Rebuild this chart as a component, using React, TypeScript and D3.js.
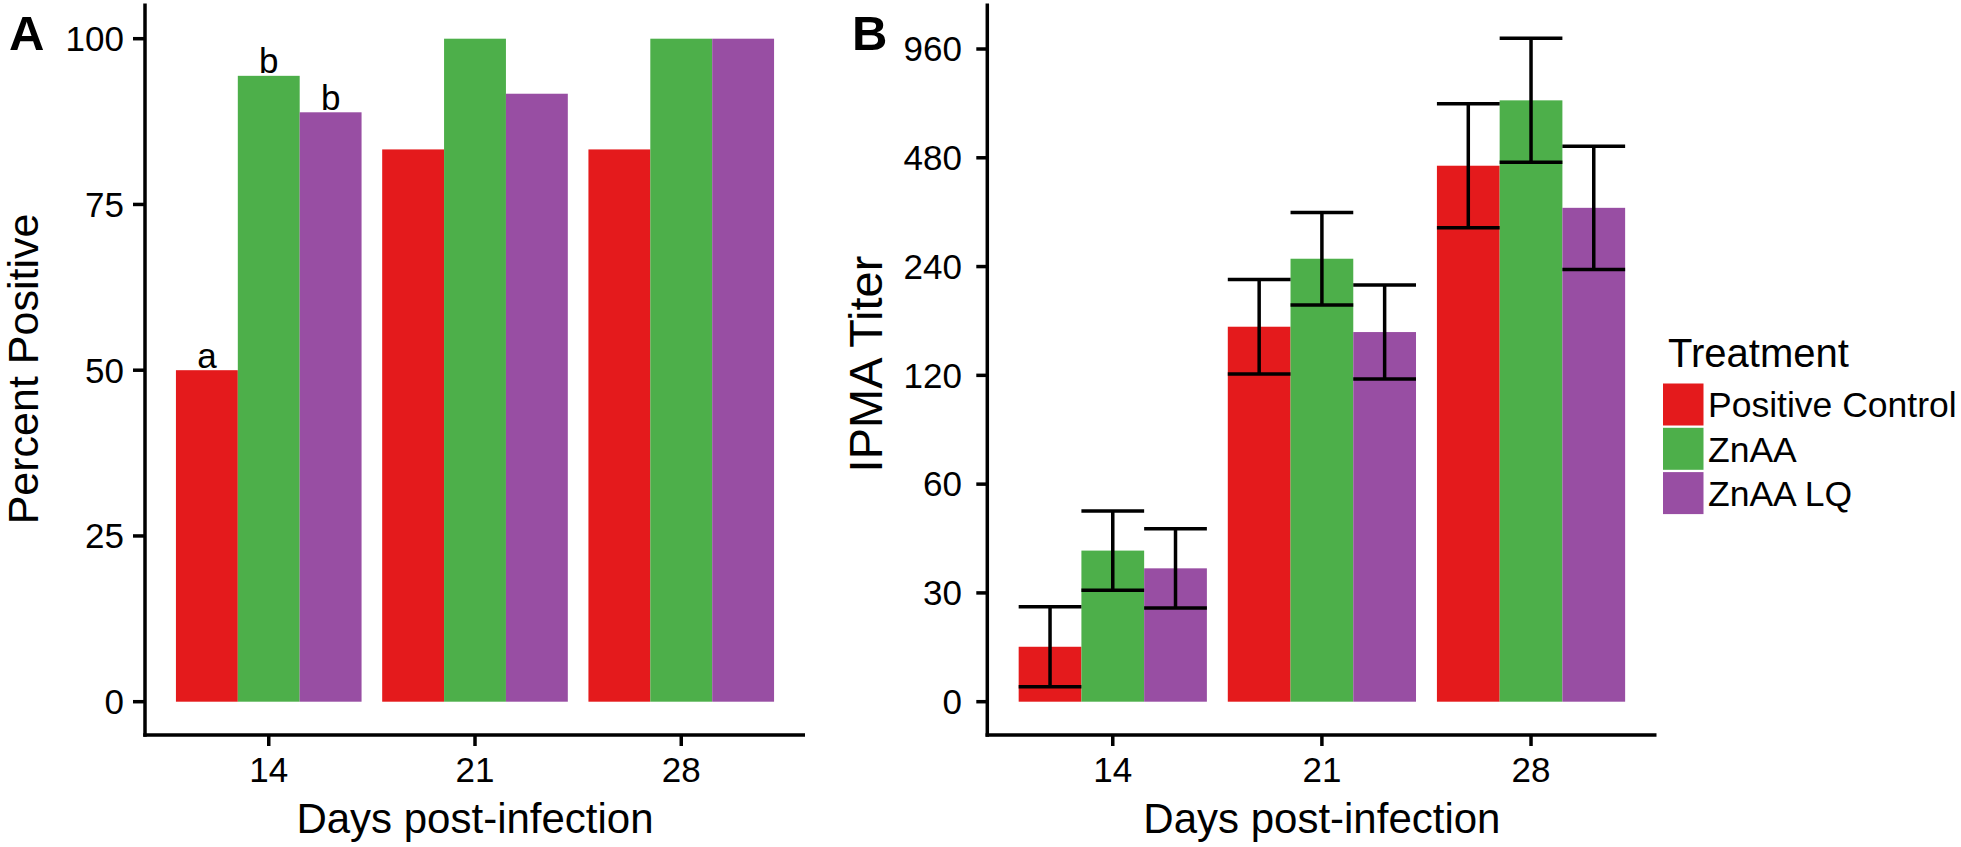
import React from 'react';
import * as d3 from 'd3';

// ---------- data ----------
const days = ['14', '21', '28'];
const treatments = ['Positive Control', 'ZnAA', 'ZnAA LQ'];
const treatmentColors = ['#E41A1C', '#4DAF4A', '#984EA3'];

// Panel A: percent positive
const pctPositiveControl = [50, 83.3, 83.3];
const pctZnAA = [94.4, 100, 100];
const pctZnAALQ = [88.9, 91.7, 100];
const pctLettersDay14 = ['a', 'b', 'b'];
const pctTicks = [0, 25, 50, 75, 100];

// Panel B: IPMA titer (plotted on two-fold dilution steps)
const titerTickLabels = ['0', '30', '60', '120', '240', '480', '960'];
const titerPositiveControl = [0.505, 3.447, 4.927];
const titerZnAA = [1.389, 4.072, 5.528];
const titerZnAALQ = [1.226, 3.398, 4.54];
const titerSePositiveControl = [0.367, 0.434, 0.57];
const titerSeZnAA = [0.364, 0.426, 0.57];
const titerSeZnAALQ = [0.365, 0.432, 0.567];

const FONT = '"Liberation Sans", Arial, Helvetica, sans-serif';

export default function App() {
  const pctSeries = [pctPositiveControl, pctZnAA, pctZnAALQ];
  const titerSeries = [titerPositiveControl, titerZnAA, titerZnAALQ];
  const titerSe = [titerSePositiveControl, titerSeZnAA, titerSeZnAALQ];

  // Panel A scales
  const xA = d3.scaleLinear().domain([0.4, 3.6]).range([145, 805]);
  const yA = d3.scaleLinear().domain([-5, 105]).range([734.85, 5.55]);
  // Panel B scales
  const xB = d3.scaleLinear().domain([0.4, 3.6]).range([987.3, 1656.5]);
  const yB = d3.scaleLinear().domain([0, 6]).range([701.7, 49]);

  const barW = 0.3;
  const axisY = 735;
  const sw = 3.5;
  const tickFs = 35;

  const barsA = [] as any[];
  pctSeries.forEach((s, j) => {
    s.forEach((v, i) => {
      const c = i + 1 + (j - 1) * barW;
      barsA.push(
        <rect key={`a${i}${j}`} x={xA(c - barW / 2)} y={yA(v)} width={xA(c + barW / 2) - xA(c - barW / 2)} height={yA(0) - yA(v)} fill={treatmentColors[j]} />
      );
    });
  });
  const lettersA = pctLettersDay14.map((l, j) => {
    const c = 1 + (j - 1) * barW;
    return (
      <text key={`l${j}`} x={xA(c)} y={yA(pctSeries[j][0]) - 2.7} textAnchor="middle" fontSize={35} fontFamily={FONT}>{l}</text>
    );
  });

  const barsB = [] as any[];
  const errB = [] as any[];
  titerSeries.forEach((s, j) => {
    s.forEach((v, i) => {
      const c = i + 1 + (j - 1) * barW;
      const x0 = xB(c - barW / 2);
      const x1 = xB(c + barW / 2);
      barsB.push(<rect key={`b${i}${j}`} x={x0} y={yB(v)} width={x1 - x0} height={yB(0) - yB(v)} fill={treatmentColors[j]} />);
      const hi = yB(v + titerSe[j][i]);
      const lo = yB(v - titerSe[j][i]);
      errB.push(
        <g key={`e${i}${j}`} stroke="#000" strokeWidth={sw}>
          <line x1={xB(c)} x2={xB(c)} y1={hi} y2={lo} />
          <line x1={x0} x2={x1} y1={hi} y2={hi} />
          <line x1={x0} x2={x1} y1={lo} y2={lo} />
        </g>
      );
    });
  });

  const xAxis = (x: any, keyp: string) => (
    <g>
      <line x1={x(0.4) - sw / 2} x2={x(3.6)} y1={axisY} y2={axisY} stroke="#000" strokeWidth={sw} />
      {days.map((d, i) => (
        <g key={keyp + d}>
          <line x1={x(i + 1)} x2={x(i + 1)} y1={axisY} y2={axisY + 11} stroke="#000" strokeWidth={sw} />
          <text x={x(i + 1)} y={782} textAnchor="middle" fontSize={tickFs} fontFamily={FONT}>{d}</text>
        </g>
      ))}
      <text x={(x(0.4) + x(3.6)) / 2} y={833} textAnchor="middle" fontSize={42} fontFamily={FONT}>Days post-infection</text>
    </g>
  );

  return (
    <svg width={1961} height={847} style={{ position: 'absolute', left: 0, top: 0, background: '#fff' }}>
      {/* Panel A */}
      {barsA}
      {lettersA}
      <line x1={xA(0.4)} x2={xA(0.4)} y1={3.5} y2={axisY + sw / 2} stroke="#000" strokeWidth={sw} />
      {pctTicks.map((t) => (
        <g key={`ta${t}`}>
          <line x1={xA(0.4) - 12} x2={xA(0.4)} y1={yA(t)} y2={yA(t)} stroke="#000" strokeWidth={sw} />
          <text x={124} y={yA(t) + 12.3} textAnchor="end" fontSize={tickFs} fontFamily={FONT}>{t}</text>
        </g>
      ))}
      {xAxis(xA, 'A')}
      <text transform={`translate(38,369) rotate(-90)`} textAnchor="middle" fontSize={43} fontFamily={FONT}>Percent Positive</text>
      <text x={9} y={50} fontSize={49} fontWeight="bold" fontFamily={FONT}>A</text>

      {/* Panel B */}
      {barsB}
      {errB}
      <line x1={xB(0.4)} x2={xB(0.4)} y1={3.5} y2={axisY + sw / 2} stroke="#000" strokeWidth={sw} />
      {titerTickLabels.map((t, k) => (
        <g key={`tb${t}`}>
          <line x1={xB(0.4) - 11} x2={xB(0.4)} y1={yB(k)} y2={yB(k)} stroke="#000" strokeWidth={sw} />
          <text x={962} y={yB(k) + 12.3} textAnchor="end" fontSize={tickFs} fontFamily={FONT}>{t}</text>
        </g>
      ))}
      {xAxis(xB, 'B')}
      <text transform={`translate(882,364) rotate(-90)`} textAnchor="middle" fontSize={47} fontFamily={FONT}>IPMA Titer</text>
      <text x={852} y={50} fontSize={49} fontWeight="bold" fontFamily={FONT}>B</text>

      {/* Legend */}
      <text x={1668} y={367} fontSize={40} fontFamily={FONT}>Treatment</text>
      {treatments.map((t, j) => (
        <g key={`lg${j}`}>
          <rect x={1663} y={383.5 + j * 44.3} width={40.5} height={42} fill={treatmentColors[j]} />
          <text x={1708} y={417.3 + j * 44.2} fontSize={35.5} fontFamily={FONT}>{t}</text>
        </g>
      ))}
    </svg>
  );
}
